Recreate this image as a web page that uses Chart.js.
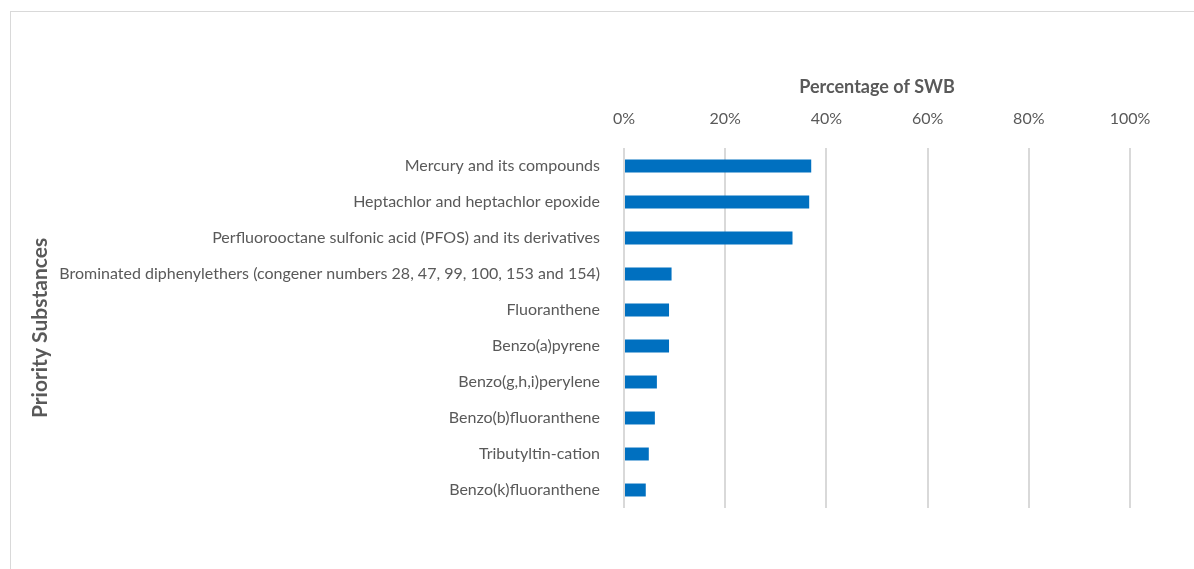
<!DOCTYPE html>
<html>
<head>
<meta charset="utf-8">
<script src="https://cdn.jsdelivr.net/npm/chart.js@4"></script>
<style>
  body { margin: 0; background: #fff; }
  #frame { position: absolute; left: 10px; top: 11px; width: 1300px; height: 700px; border: 1px solid #d9d9d9; }
  #wrap { position: absolute; left: 0; top: 0; width: 1194px; height: 569px; }
</style>
</head>
<body>
<div id="frame"></div>
<div id="wrap"><canvas id="bar-chart"></canvas></div>
<script>
// substances, top to bottom
var substances = [
    "Mercury and its compounds",
    "Heptachlor and heptachlor epoxide",
    "Perfluorooctane sulfonic acid (PFOS) and its derivatives",
    "Brominated diphenylethers (congener numbers 28, 47, 99, 100, 153 and 154)",
    "Fluoranthene",
    "Benzo(a)pyrene",
    "Benzo(g,h,i)perylene",
    "Benzo(b)fluoranthene",
    "Tributyltin-cation",
    "Benzo(k)fluoranthene"
];

// share of surface water bodies, in %
var swbShare = [37.0, 36.6, 33.3, 9.4, 8.9, 8.9, 6.5, 6.1, 4.9, 4.3];

var xTicks = [0, 20, 40, 60, 80, 100];

var grey = "#595959";

var barChart = new Chart(document.getElementById("bar-chart").getContext("2d"), {
    type: "bar",
    data: {
        labels: substances,
        datasets: [
            {
                label: "Percentage of SWB",
                data: swbShare,
                backgroundColor: "#0070c0",
                categoryPercentage: 1,
                barPercentage: 0.36,
            },
        ],
    },
    options: {
        indexAxis: "y",
        responsive: true,
        maintainAspectRatio: false,
        animation: false,
        layout: { padding: { left: 0, right: 64, top: 0, bottom: 61 } },
        plugins: {
            legend: { display: false },
            tooltip: { enabled: false },
        },
        scales: {
            x: {
                position: "top",
                min: 0,
                max: 100,
                afterBuildTicks: function (scale) {
                    scale.ticks = xTicks.map(function (v) { return { value: v }; });
                },
                afterFit: function (scale) { scale.height = 148; },
                ticks: {
                    color: grey,
                    font: { family: "Lato", size: 16 },
                    padding: 20,
                    callback: function (v) { return v + "%"; },
                },
                grid: { color: "#d9d9d9", lineWidth: 2, drawTicks: false },
                border: { display: false },
                title: {
                    display: true,
                    text: "Percentage of SWB",
                    color: grey,
                    font: { family: "Lato", size: 18, weight: "bold" },
                    padding: { top: 76, bottom: 0 },
                },
            },
            y: {
                afterFit: function (scale) { scale.width = 624; },
                ticks: {
                    color: grey,
                    font: { family: "Lato", size: 16 },
                    padding: 16,
                    autoSkip: false,
                },
                grid: { display: false },
                border: { display: false },
                title: {
                    display: true,
                    text: "Priority Substances",
                    color: grey,
                    font: { family: "Lato", size: 21, weight: "bold" },
                    padding: { top: 28, bottom: 0 },
                },
            },
        },
    },
});
</script>
</body>
</html>
